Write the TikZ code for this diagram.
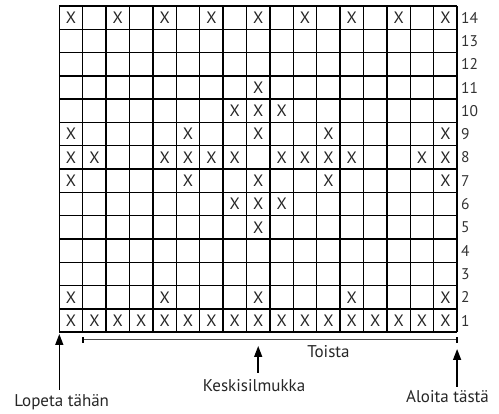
\documentclass[tikz,border=0pt]{standalone}
\usepackage{fontspec}
\setmainfont{PT Sans}
\usetikzlibrary{arrows.meta}
\begin{document}
\begin{tikzpicture}[x=1pt,y=-1pt,
  gridline/.style={line width=1.4pt,black},
  xmark/.style={font=\fontsize{16.5}{17}\selectfont,inner sep=0pt,text=black!85},
  rownum/.style={font=\fontsize{15.5}{16}\selectfont,anchor=west,inner sep=0pt,text=black!80},
  lbl/.style={font=\fontsize{17}{18}\selectfont,anchor=base,inner sep=0pt,text=black!85},
  uparrow/.style={line width=1.5pt,-{Triangle[width=8pt,length=11pt]}},
]
\useasboundingbox (0,0) rectangle (499,414);
\def\L{59.3}\def\T{6}\def\sx{23.4}\def\sy{23.3}
% grid
\foreach \i in {0,...,17} {\draw[gridline] ({\L+\i*\sx},\T) -- ({\L+\i*\sx},{\T+14*\sy});}
\foreach \j in {0,...,14} {\draw[gridline] (\L,{\T+\j*\sy}) -- ({\L+17*\sx},{\T+\j*\sy});}
% row numbers
\foreach \r in {1,...,14} {\node[rownum] (r\r) at (461,{\T+(14-\r+0.5)*\sy}) {\r};}
% X marks: row / list of columns
\foreach \r/\cols in {14/{1,3,5,7,9,11,13,15,17},11/{9},10/{8,9,10},9/{1,6,9,12,17},
  8/{1,2,5,6,7,8,10,11,12,13,16,17},7/{1,6,9,12,17},6/{8,9,10},5/{9},
  2/{1,5,9,13,17},1/{1,2,3,4,5,6,7,8,9,10,11,12,13,14,15,16,17}} {
  \foreach \c in \cols {\node[xmark] (x\r-\c) at ({\L+(\c-0.5)*\sx},{\T+(14-\r+0.5)*\sy}) {X};}
}
% repeat bracket
\coordinate (bl) at ({\L+\sx},340);
\coordinate (br) at ({\L+17*\sx},340);
\draw[line width=1pt,black!70] (bl) -- (br);
\draw[line width=2pt] ([yshift=-3]bl) -- ([yshift=3]bl);
\draw[line width=2pt] ([yshift=-3]br) -- ([yshift=3]br);
\node[lbl] (toista) at (328.5,357.5) {Toista};
% labels and arrows
\node[lbl] (lopeta) at (61.7,407) {Lopeta tähän};
\node[lbl] (keski) at (254,392) {Keskisilmukka};
\node[lbl] (aloita) at (447.5,403) {Aloita tästä};
\coordinate (la) at (\L,334);
\coordinate (ma) at ({\L+8.5*\sx},346);
\coordinate (ra) at ({\L+17*\sx},349);
\draw[uparrow] (\L,390) -- (la);
\draw[uparrow] ({\L+8.5*\sx},373) -- (ma);
\draw[uparrow] ({\L+17*\sx},387) -- (ra);
\end{tikzpicture}
\end{document}
